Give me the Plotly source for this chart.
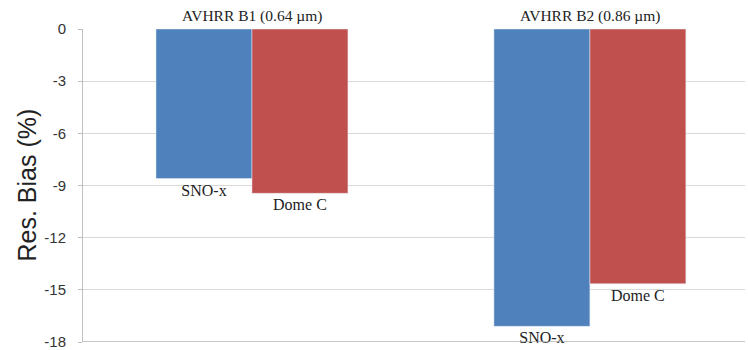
import plotly.graph_objects as go

categories = ["AVHRR B1 (0.64 µm)", "AVHRR B2 (0.86 µm)"]
sno_x = [-8.6, -17.1]
dome_c = [-9.45, -14.65]
series_names = ["SNO-x", "Dome C"]
y_ticks = [0, -3, -6, -9, -12, -15, -18]

xpos = [0, 1]
serif = "Liberation Serif, Times New Roman, serif"
sans = "Liberation Sans, Arial, sans-serif"

fig = go.Figure()
fig.add_trace(go.Bar(x=xpos, y=sno_x, name=series_names[0], marker_color="#4F81BD",
                     text=[series_names[0]] * 2, textposition="outside",
                     textfont=dict(family=serif, size=16, color="#222222"),
                     cliponaxis=False))
fig.add_trace(go.Bar(x=xpos, y=dome_c, name=series_names[1], marker_color="#C0504D",
                     text=[series_names[1]] * 2, textposition="outside",
                     textfont=dict(family=serif, size=16, color="#222222"),
                     cliponaxis=False))

for xi, cat in zip(xpos, categories):
    fig.add_annotation(x=xi, y=0, text=cat, showarrow=False, yanchor="bottom", yshift=2,
                       font=dict(family=serif, size=15.5, color="#222222"))

fig.add_annotation(xref="paper", yref="paper", x=0, y=0.5, xshift=-57, text="Res. Bias (%)",
                   textangle=-90, showarrow=False, xanchor="center", yanchor="middle",
                   font=dict(family=sans, size=25, color="#222222"))

fig.update_layout(
    width=748, height=350,
    margin=dict(l=83, r=3, t=29, b=8, autoexpand=False),
    paper_bgcolor="white", plot_bgcolor="white",
    barmode="group", bargap=0.432, bargroupgap=0,
    showlegend=False,
)
fig.update_xaxes(range=[-0.5, 1.459], showticklabels=False, showgrid=False, zeroline=False,
                 showline=False, automargin=False)
fig.update_yaxes(range=[-18, 0], tickvals=y_ticks, ticktext=[str(v) for v in y_ticks],
                 showgrid=True, gridcolor="#D9D9D9", gridwidth=1, zeroline=False,
                 showline=True, linecolor="#BFBFBF", linewidth=1,
                 ticks="outside", ticklen=4, tickcolor="#BFBFBF", ticklabelstandoff=9,
                 automargin=False, ticklabeloverflow="allow",
                 tickfont=dict(family=sans, size=15, color="#333333"))
fig.add_shape(type="line", xref="paper", yref="y", x0=0, x1=1, y0=-18, y1=-18,
              line=dict(color="#8C8C8C", width=1))

fig.write_html("out.html", config={"displayModeBar": False},
               post_script="document.body.style.margin='0';")
